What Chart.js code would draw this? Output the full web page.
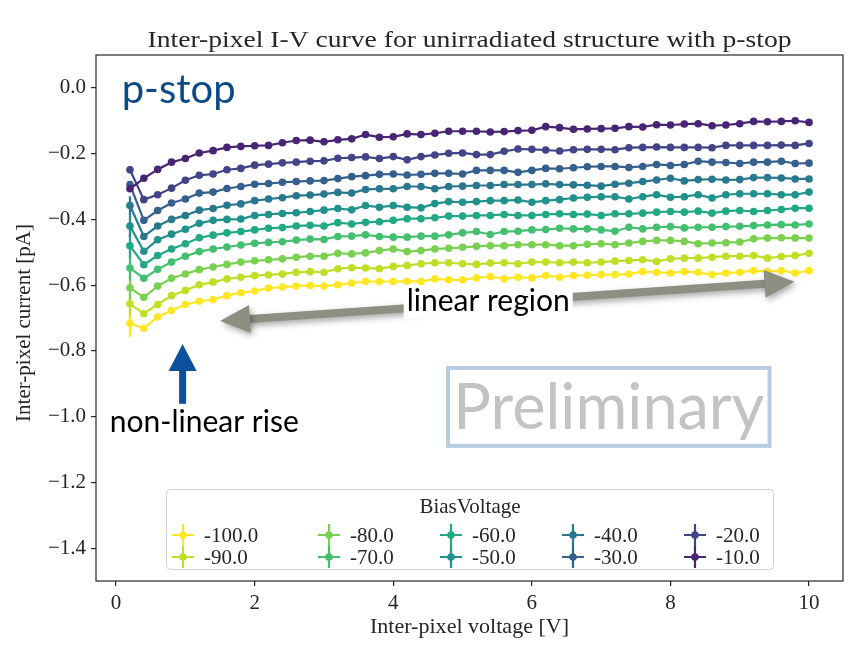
<!DOCTYPE html>
<html>
<head>
<meta charset="utf-8">
<script src="https://cdn.jsdelivr.net/npm/chart.js@4.4.0/dist/chart.umd.min.js"></script>
<style>
  html, body { margin: 0; padding: 0; background: #ffffff; }
  #wrap { width: 852px; height: 659px; }
</style>
</head>
<body>
<div id="wrap"><canvas id="ivChart" width="852" height="659"></canvas></div>
<script>
// inter-pixel voltage sweep [V]
const voltage = [0.2, 0.4, 0.6, 0.8, 1.0, 1.2, 1.4, 1.6, 1.8, 2.0,
  2.2, 2.4, 2.6, 2.8, 3.0, 3.2, 3.4, 3.6, 3.8, 4.0,
  4.2, 4.4, 4.6, 4.8, 5.0, 5.2, 5.4, 5.6, 5.8, 6.0,
  6.2, 6.4, 6.6, 6.8, 7.0, 7.2, 7.4, 7.6, 7.8, 8.0,
  8.2, 8.4, 8.6, 8.8, 9.0, 9.2, 9.4, 9.6, 9.8, 10.0];

const biasLabels = ['-100.0', '-90.0', '-80.0', '-70.0', '-60.0', '-50.0', '-40.0', '-30.0', '-20.0', '-10.0'];
const biasColors = ['#fde725', '#bddf26', '#7ad151', '#44bf70', '#22a884', '#21918c', '#2a788e', '#355f8d', '#414487', '#482475'];

// inter-pixel current [pA] per bias voltage
const cur100 = [-0.716, -0.731, -0.697, -0.677, -0.659, -0.649, -0.644, -0.632, -0.623, -0.618,
  -0.609, -0.606, -0.603, -0.601, -0.603, -0.599, -0.594, -0.589, -0.589, -0.589,
  -0.588, -0.589, -0.581, -0.584, -0.584, -0.578, -0.574, -0.581, -0.576, -0.578,
  -0.571, -0.576, -0.571, -0.570, -0.568, -0.568, -0.566, -0.559, -0.561, -0.563,
  -0.559, -0.561, -0.568, -0.563, -0.561, -0.556, -0.559, -0.556, -0.563, -0.556];
const cur90 = [-0.657, -0.687, -0.659, -0.632, -0.616, -0.599, -0.591, -0.581, -0.576, -0.571,
  -0.569, -0.566, -0.561, -0.559, -0.561, -0.550, -0.547, -0.548, -0.550, -0.543,
  -0.540, -0.535, -0.532, -0.532, -0.535, -0.537, -0.533, -0.532, -0.535, -0.530,
  -0.530, -0.532, -0.530, -0.532, -0.530, -0.527, -0.525, -0.523, -0.528, -0.520,
  -0.518, -0.518, -0.515, -0.512, -0.512, -0.510, -0.518, -0.513, -0.510, -0.503];
const cur80 = [-0.608, -0.637, -0.603, -0.579, -0.566, -0.553, -0.545, -0.537, -0.530, -0.526,
  -0.523, -0.520, -0.515, -0.512, -0.512, -0.503, -0.505, -0.502, -0.495, -0.490,
  -0.498, -0.495, -0.490, -0.488, -0.485, -0.482, -0.480, -0.480, -0.477, -0.477,
  -0.477, -0.480, -0.480, -0.476, -0.474, -0.477, -0.472, -0.467, -0.464, -0.464,
  -0.467, -0.474, -0.472, -0.471, -0.469, -0.459, -0.457, -0.456, -0.457, -0.457];
const cur70 = [-0.548, -0.579, -0.552, -0.530, -0.512, -0.498, -0.490, -0.484, -0.478, -0.473,
  -0.470, -0.468, -0.463, -0.460, -0.461, -0.452, -0.451, -0.447, -0.452, -0.454,
  -0.454, -0.451, -0.451, -0.447, -0.441, -0.437, -0.446, -0.437, -0.436, -0.432,
  -0.431, -0.427, -0.429, -0.429, -0.432, -0.436, -0.424, -0.429, -0.424, -0.422,
  -0.426, -0.424, -0.424, -0.422, -0.421, -0.419, -0.417, -0.416, -0.417, -0.414];
const cur60 = [-0.480, -0.538, -0.510, -0.490, -0.474, -0.456, -0.448, -0.441, -0.437, -0.432,
  -0.427, -0.425, -0.420, -0.418, -0.420, -0.410, -0.414, -0.409, -0.407, -0.403,
  -0.398, -0.398, -0.395, -0.390, -0.390, -0.388, -0.388, -0.385, -0.388, -0.388,
  -0.385, -0.383, -0.385, -0.384, -0.388, -0.383, -0.383, -0.381, -0.378, -0.376,
  -0.378, -0.375, -0.381, -0.375, -0.373, -0.376, -0.373, -0.370, -0.366, -0.366];
const cur50 = [-0.420, -0.497, -0.462, -0.445, -0.430, -0.412, -0.403, -0.400, -0.399, -0.388,
  -0.385, -0.382, -0.380, -0.376, -0.372, -0.367, -0.371, -0.358, -0.363, -0.358,
  -0.363, -0.365, -0.352, -0.346, -0.348, -0.346, -0.343, -0.343, -0.341, -0.348,
  -0.343, -0.340, -0.335, -0.333, -0.331, -0.331, -0.338, -0.331, -0.325, -0.333,
  -0.331, -0.325, -0.335, -0.325, -0.322, -0.322, -0.322, -0.325, -0.325, -0.317];
const cur40 = [-0.358, -0.452, -0.420, -0.400, -0.388, -0.372, -0.367, -0.357, -0.353, -0.343,
  -0.338, -0.334, -0.328, -0.326, -0.323, -0.318, -0.320, -0.309, -0.307, -0.307,
  -0.300, -0.300, -0.307, -0.300, -0.299, -0.297, -0.297, -0.294, -0.294, -0.294,
  -0.292, -0.294, -0.295, -0.296, -0.299, -0.293, -0.290, -0.285, -0.280, -0.275,
  -0.283, -0.279, -0.278, -0.280, -0.279, -0.273, -0.273, -0.274, -0.277, -0.277];
const cur30 = [-0.294, -0.403, -0.373, -0.350, -0.338, -0.320, -0.317, -0.306, -0.300, -0.293,
  -0.291, -0.287, -0.285, -0.283, -0.282, -0.276, -0.270, -0.267, -0.263, -0.262,
  -0.265, -0.263, -0.260, -0.260, -0.262, -0.251, -0.251, -0.251, -0.257, -0.251,
  -0.245, -0.246, -0.243, -0.240, -0.239, -0.239, -0.242, -0.239, -0.233, -0.236,
  -0.233, -0.223, -0.226, -0.227, -0.230, -0.226, -0.226, -0.223, -0.230, -0.229];
const cur20 = [-0.249, -0.340, -0.325, -0.305, -0.281, -0.266, -0.262, -0.249, -0.245, -0.235,
  -0.232, -0.228, -0.226, -0.223, -0.222, -0.214, -0.212, -0.210, -0.215, -0.209,
  -0.219, -0.209, -0.204, -0.199, -0.198, -0.203, -0.203, -0.193, -0.186, -0.187,
  -0.189, -0.192, -0.188, -0.187, -0.187, -0.188, -0.182, -0.181, -0.180, -0.181,
  -0.181, -0.181, -0.182, -0.175, -0.175, -0.175, -0.175, -0.174, -0.175, -0.169];
const cur10 = [-0.307, -0.275, -0.248, -0.226, -0.215, -0.198, -0.191, -0.181, -0.178, -0.176,
  -0.175, -0.167, -0.160, -0.159, -0.164, -0.158, -0.155, -0.142, -0.150, -0.149,
  -0.140, -0.142, -0.138, -0.132, -0.132, -0.132, -0.134, -0.133, -0.130, -0.129,
  -0.118, -0.121, -0.126, -0.125, -0.124, -0.123, -0.118, -0.119, -0.112, -0.113,
  -0.110, -0.109, -0.115, -0.113, -0.109, -0.102, -0.103, -0.102, -0.100, -0.105];

// error on the first (0.2 V) point, same order as biasLabels
const firstErr = [0.042, 0.036, 0.036, 0.036, 0.036, 0.036, 0.028, 0, 0, 0];

const xTickValues = [0, 2, 4, 6, 8, 10];
const yTickValues = [0.0, -0.2, -0.4, -0.6, -0.8, -1.0, -1.2, -1.4];

const currents = [cur100, cur90, cur80, cur70, cur60, cur50, cur40, cur30, cur20, cur10];

const serif = "'Liberation Serif', 'DejaVu Serif', serif";
const sans = "Lato, 'Open Sans', sans-serif";
const ink = '#262626';

const datasets = currents.map((cur, k) => ({
  label: biasLabels[k],
  data: voltage.map((v, i) => ({ x: v, y: cur[i] })),
  borderColor: biasColors[k],
  backgroundColor: biasColors[k],
  borderWidth: 2.2,
  pointRadius: 3.8,
  pointBorderWidth: 0,
  pointHoverRadius: 3.8,
  fill: false,
  tension: 0,
  order: 10 - k,
}));

function arrowHead(ctx, tx, ty, ang, len, half) {
  ctx.beginPath();
  ctx.moveTo(tx, ty);
  ctx.lineTo(tx - len * Math.cos(ang) - half * Math.sin(ang), ty - len * Math.sin(ang) + half * Math.cos(ang));
  ctx.lineTo(tx - len * Math.cos(ang) + half * Math.sin(ang), ty - len * Math.sin(ang) - half * Math.cos(ang));
  ctx.closePath();
  ctx.fill();
}

// text stretched sideways, serif faces here run narrower than the TeX ones
function wideText(ctx, str, x, y, sx) {
  ctx.save();
  ctx.translate(x, y);
  ctx.scale(sx, 1);
  ctx.fillText(str, 0, 0);
  ctx.restore();
}

const overlay = {
  id: 'overlay',
  beforeDatasetsDraw(chart) {
    // vertical error bars on the 0.2 V points
    const ctx = chart.ctx, xs = chart.scales.x, ys = chart.scales.y;
    ctx.save();
    ctx.lineWidth = 2.2;
    currents.forEach((cur, k) => {
      if (!firstErr[k]) return;
      const px = xs.getPixelForValue(voltage[0]);
      ctx.strokeStyle = biasColors[k];
      ctx.beginPath();
      ctx.moveTo(px, ys.getPixelForValue(cur[0] + firstErr[k]));
      ctx.lineTo(px, ys.getPixelForValue(cur[0] - firstErr[k]));
      ctx.stroke();
    });
    ctx.restore();
  },
  afterDatasetsDraw(chart) {
    const ctx = chart.ctx, xs = chart.scales.x, ys = chart.scales.y;
    const area = chart.chartArea;
    const X = v => xs.getPixelForValue(v), Y = v => ys.getPixelForValue(v);
    ctx.save();

    // "Preliminary" stamp
    const bx0 = X(4.79), bx1 = X(9.43), by0 = Y(-0.852), by1 = Y(-1.089);
    ctx.strokeStyle = '#b8cce4';
    ctx.lineWidth = 4;
    ctx.strokeRect(bx0, by0, bx1 - bx0, by1 - by0);
    ctx.fillStyle = '#c3c3c3';
    ctx.font = '63px ' + sans;
    ctx.textAlign = 'center';
    ctx.textBaseline = 'alphabetic';
    ctx.fillText('Preliminary', (bx0 + bx1) / 2, Y(-1.037));

    // grey double arrow over the linear part
    const ax0 = X(1.5), ay0 = Y(-0.709), ax1 = X(9.79), ay1 = Y(-0.590);
    const ang = Math.atan2(ay1 - ay0, ax1 - ax0);
    ctx.shadowColor = 'rgba(0,0,0,0.35)';
    ctx.shadowBlur = 6;
    ctx.shadowOffsetX = 2;
    ctx.shadowOffsetY = 3;
    ctx.fillStyle = '#8e8e82';
    ctx.strokeStyle = '#8e8e82';
    ctx.lineWidth = 8;
    ctx.beginPath();
    ctx.moveTo(ax0 + 26 * Math.cos(ang), ay0 + 26 * Math.sin(ang));
    ctx.lineTo(ax1 - 26 * Math.cos(ang), ay1 - 26 * Math.sin(ang));
    ctx.stroke();
    arrowHead(ctx, ax1, ay1, ang, 30, 14);
    arrowHead(ctx, ax0, ay0, ang + Math.PI, 30, 14);
    ctx.shadowColor = 'transparent';

    // label sitting on the arrow
    ctx.font = '30px ' + sans;
    const lx = X(5.37), ly = Y(-0.678);
    const lw = ctx.measureText('linear region').width;
    ctx.fillStyle = '#ffffff';
    ctx.fillRect(lx - lw / 2 - 3, ly - 23, lw + 6, 31);
    ctx.fillStyle = '#000000';
    ctx.textAlign = 'center';
    ctx.fillText('linear region', lx, ly);

    // blue arrow pointing at the rise
    const ux = X(0.96), utip = Y(-0.779), ubase = Y(-0.961);
    ctx.fillStyle = '#0c4f9a';
    ctx.fillRect(ux - 3.5, utip + 25, 7, ubase - utip - 25);
    arrowHead(ctx, ux, utip, -Math.PI / 2, 27, 14);

    ctx.fillStyle = '#000000';
    ctx.textAlign = 'left';
    ctx.font = '30px ' + sans;
    ctx.fillText('non-linear rise', X(-0.09), Y(-1.046));

    ctx.fillStyle = '#0b4a86';
    ctx.font = '40px ' + sans;
    ctx.fillText('p-stop', X(0.08), Y(-0.046));

    // axes frame
    ctx.strokeStyle = ink;
    ctx.lineWidth = 1.2;
    ctx.strokeRect(area.left, area.top, area.right - area.left, area.bottom - area.top);
    ctx.restore();
  },
  afterDraw(chart) {
    const ctx = chart.ctx, area = chart.chartArea;
    const cx = (area.left + area.right) / 2;
    ctx.save();
    ctx.fillStyle = ink;
    ctx.textAlign = 'center';
    ctx.textBaseline = 'alphabetic';
    ctx.font = '23px ' + serif;
    wideText(ctx, 'Inter-pixel I-V curve for unirradiated structure with p-stop', cx, 47, 1.2);
    ctx.font = '21px ' + serif;
    wideText(ctx, 'Inter-pixel voltage [V]', cx, 633, 1.05);
    ctx.save();
    ctx.translate(30, (area.top + area.bottom) / 2 + 5);
    ctx.rotate(-Math.PI / 2);
    ctx.fillText('Inter-pixel current [pA]', 0, 0);
    ctx.restore();

    // legend, filled column by column
    const lx = 166.5, ly = 489.5, lw = 607, lh = 80;
    ctx.fillStyle = 'rgba(255,255,255,0.85)';
    ctx.strokeStyle = '#cfcfcf';
    ctx.lineWidth = 1;
    ctx.beginPath();
    ctx.roundRect(lx, ly, lw, lh, 4);
    ctx.fill();
    ctx.stroke();
    ctx.fillStyle = ink;
    ctx.font = '21px ' + serif;
    ctx.fillText('BiasVoltage', lx + lw / 2, ly + 23);
    const colX = [183, 329, 451, 573, 695];
    const rowY = [542, 564];
    chart.data.datasets.forEach((ds, k) => {
      const hx = colX[Math.floor(k / 2)], hy = rowY[k % 2] - 7;
      ctx.strokeStyle = ds.borderColor;
      ctx.fillStyle = ds.borderColor;
      ctx.lineWidth = 2.2;
      ctx.beginPath();
      ctx.moveTo(hx - 11, hy); ctx.lineTo(hx + 11, hy);
      ctx.moveTo(hx, hy - 11); ctx.lineTo(hx, hy + 11);
      ctx.stroke();
      ctx.beginPath();
      ctx.arc(hx, hy, 3.8, 0, Math.PI * 2);
      ctx.fill();
      ctx.fillStyle = ink;
      ctx.textAlign = 'left';
      ctx.fillText(ds.label, hx + 21, rowY[k % 2]);
    });
    ctx.restore();
  }
};

new Chart(document.getElementById('ivChart'), {
  type: 'line',
  data: { datasets: datasets },
  options: {
    responsive: false,
    animation: false,
    layout: { padding: { top: 55, right: 9, left: 0, bottom: 0 } },
    plugins: { legend: { display: false }, tooltip: { enabled: false }, title: { display: false } },
    scales: {
      x: {
        type: 'linear',
        min: -0.29,
        max: 10.49,
        afterBuildTicks: s => { s.ticks = xTickValues.map(v => ({ value: v })); },
        afterFit: s => { s.height = 78; },
        ticks: {
          color: ink,
          padding: 5,
          maxRotation: 0,
          font: { family: serif, size: 21 },
          callback: v => String(v)
        },
        grid: { drawOnChartArea: false, drawTicks: true, tickLength: 5, color: ink, lineWidth: 1.2 },
        border: { display: false }
      },
      y: {
        type: 'linear',
        min: -1.5,
        max: 0.1,
        afterBuildTicks: s => { s.ticks = yTickValues.map(v => ({ value: v })); },
        afterFit: s => { s.width = 96; },
        ticks: {
          color: ink,
          padding: 5,
          font: { family: serif, size: 21 },
          callback: v => (v === 0 ? '0.0' : '\u2212' + Math.abs(v).toFixed(1))
        },
        grid: { drawOnChartArea: false, drawTicks: true, tickLength: 5, color: ink, lineWidth: 1.2 },
        border: { display: false }
      }
    }
  },
  plugins: [overlay]
});
</script>
</body>
</html>
